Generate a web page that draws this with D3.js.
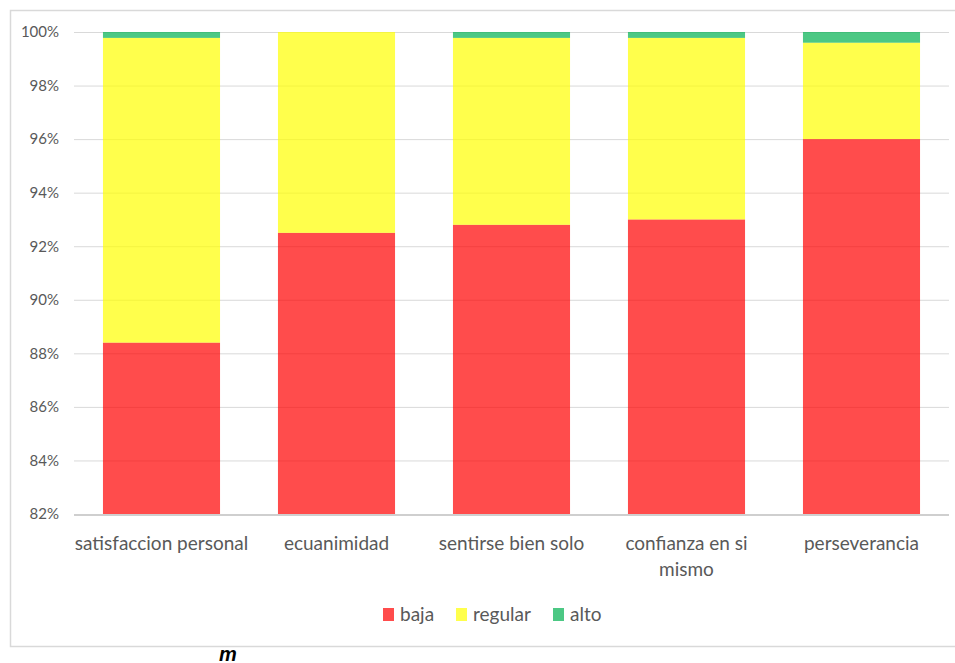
<!DOCTYPE html>
<html><head><meta charset="utf-8">
<script src="https://d3js.org/d3.v7.min.js"></script>
<style>
html,body{margin:0;padding:0;background:#fff;}
svg{display:block;}
text{font-family:Lato,"Open Sans",sans-serif;}
</style></head>
<body>
<svg id="chart" width="955" height="663"></svg>
<script>
const categories = ["satisfaccion personal","ecuanimidad","sentirse bien solo","confianza en si mismo","perseverancia"];
const categoryLines = [["satisfaccion personal"],["ecuanimidad"],["sentirse bien solo"],["confianza en si","mismo"],["perseverancia"]];
const baja = [88.4, 92.5, 92.8, 93.0, 96.0];
const regular = [11.38, 7.5, 6.98, 6.78, 3.6];
const alto = [0.22, 0.0, 0.22, 0.22, 0.4];
const seriesNames = ["baja","regular","alto"];
const seriesColors = ["#FF0000","#FFFF00","#00B050"];
const yTicks = [82,84,86,88,90,92,94,96,98,100];

const svg = d3.select("#chart");
// frame
svg.append("rect").attr("x",10.5).attr("y",10.5).attr("width",960).attr("height",636)
  .attr("fill","none").attr("stroke","#D9D9D9").attr("stroke-width",1.5);

const x = d3.scaleBand().domain(categories).range([74,949]).paddingInner(0.331).paddingOuter(0.1655);
const y = d3.scaleLinear().domain([82,100]).range([514,32]);

// gridlines
svg.append("g").selectAll("line").data(yTicks.filter(t=>t>82)).join("line")
  .attr("x1",74).attr("x2",949).attr("y1",d=>y(d)+0.5).attr("y2",d=>y(d)+0.5)
  .attr("stroke","#D9D9D9").attr("stroke-width",1);

// y axis labels
const yAxis = d3.axisLeft(y).tickValues(yTicks).tickFormat(d=>d+"%").tickSize(0).tickPadding(0);
const yg = svg.append("g").attr("transform","translate(59,0)").call(yAxis);
yg.select(".domain").remove();
yg.selectAll("text").attr("fill","#595959").style("font-size","15px").style("font-family","Lato,sans-serif");

// stacked data
const rows = categories.map((c,i)=>({cat:c, baja:baja[i], regular:regular[i], alto:alto[i]}));
const stack = d3.stack().keys(seriesNames)(rows);
const color = d3.scaleOrdinal().domain(seriesNames).range(seriesColors);

svg.append("defs").append("clipPath").attr("id","plotclip")
  .append("rect").attr("x",74).attr("y",y(100)).attr("width",875).attr("height",y(82)-y(100));

svg.append("g").attr("clip-path","url(#plotclip)").selectAll("g").data(stack).join("g")
  .attr("fill",d=>color(d.key)).attr("fill-opacity",0.7)
  .selectAll("rect").data(d=>d).join("rect")
  .attr("x",d=>x(d.data.cat)).attr("width",x.bandwidth())
  .attr("y",d=>y(Math.max(d[1],82))).attr("height",d=>Math.max(0,y(Math.max(d[0],82))-y(Math.max(d[1],82))));

// x axis line
svg.append("line").attr("x1",74).attr("x2",949).attr("y1",515).attr("y2",515)
  .attr("stroke","#BFBFBF").attr("stroke-width",1.5);

// category labels
const xg = svg.append("g");
categories.forEach((c,i)=>{
  const t = xg.append("text").attr("x",x(c)+x.bandwidth()/2).attr("y",550)
    .attr("text-anchor","middle").attr("fill","#595959").style("font-size","19px");
  categoryLines[i].forEach((ln,j)=>{
    t.append("tspan").attr("x",x(c)+x.bandwidth()/2).attr("dy",j===0?0:26).text(ln);
  });
});

// legend
const legendX = [383,456,553];
const lg = svg.append("g");
seriesNames.forEach((s,i)=>{
  lg.append("rect").attr("x",legendX[i]).attr("y",608).attr("width",11).attr("height",13)
    .attr("fill",color(s)).attr("fill-opacity",0.7);
  lg.append("text").attr("x",legendX[i]+17).attr("y",621).attr("fill","#595959")
    .style("font-size","19px").text(s);
});

// stray mark below the chart
svg.append("text").attr("x",219).attr("y",661).attr("fill","#000")
  .style("font-size","20px").style("font-weight","bold").style("font-style","italic")
  .style("font-family","'Liberation Sans',sans-serif").text("m");
</script>
</body></html>
